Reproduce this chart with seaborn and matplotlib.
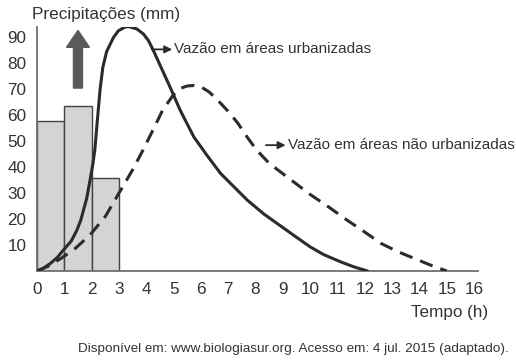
import numpy as np
import pandas as pd
import matplotlib
matplotlib.use("Agg")
import matplotlib.pyplot as plt
import seaborn as sns

# ==============================
# Data
# ==============================
bar_left = [0, 1, 2]
bar_height = [58, 63.5, 36]

# urbanised discharge (solid)
urban_x = [0, 0.25, 0.5, 0.75, 0.96, 1.25, 1.45, 1.6, 1.82, 1.95, 2.05, 2.12, 2.2,
           2.31, 2.41, 2.55, 2.8, 2.98, 3.22, 3.35, 3.65, 3.89, 4.08, 4.26, 4.48,
           4.87, 5.24, 5.74, 6.22, 6.72, 7.7, 8.3, 8.9, 9.5, 10, 10.5, 11.1, 11.6, 12.1]
urban_y = [0, 1.2, 3, 5.3, 8, 11.5, 15.5, 19.5, 28, 35.5, 41.5, 47, 57,
           70, 78.5, 84.6, 90, 92.6, 94, 94.2, 93.3, 91.4, 88.8, 85, 79.9,
           70.9, 62, 51.7, 44.6, 37.6, 27.3, 22, 17.5, 13, 9.3, 6.3, 3.6, 1.6, 0]

# non-urbanised discharge (dashed)
rural_x = [0, 0.4, 0.9, 1.4, 1.95, 2.5, 3, 3.5, 3.9, 4.3, 4.6, 5.0, 5.25, 5.5,
           5.75, 6.0, 6.3, 6.6, 7.0, 7.35, 7.7, 8.05, 8.5, 9, 9.5, 10, 10.7,
           11.35, 12, 12.6, 13.2, 13.8, 14.4, 15]
rural_y = [0, 1.8, 5, 8.7, 14, 21, 30, 39, 47, 55.5, 62, 68, 70.4, 71.3,
           71.5, 71, 69, 66, 61.5, 57, 51.5, 46.5, 41.5, 37.5, 33.5, 29.5, 24.5,
           19.6, 15, 10.6, 7.5, 4.9, 2.3, 0]

x_ticks = list(range(0, 17))
y_ticks = list(range(10, 100, 10))

# ==============================
# Plot
# ==============================
sns.set_style("white")
plt.rcParams["font.family"] = ["Liberation Sans", "DejaVu Sans"]

fig = plt.figure(figsize=(5.16, 3.63), dpi=100)
ax = fig.add_axes([0.0717, 0.2534, 0.855, 0.672])

ink = "#2b2b2b"
txt = "#333333"
axis_gray = "#707070"

ax.bar(bar_left, bar_height, width=1, align="edge", color="#d4d4d4",
       edgecolor="#444444", linewidth=1, zorder=1)

urban = pd.DataFrame({"t": urban_x, "v": urban_y})
rural = pd.DataFrame({"t": rural_x, "v": rural_y})
sns.lineplot(data=urban, x="t", y="v", sort=False, estimator=None, ax=ax,
             color=ink, linewidth=2.2, zorder=3)
sns.lineplot(data=rural, x="t", y="v", sort=False, estimator=None, ax=ax,
             color=ink, linewidth=2.2, zorder=3)
for ln in ax.lines:
    ln.set_solid_joinstyle("round")
ax.lines[-1].set_dashes((4.4, 2.7))

# big grey arrow
ax.arrow(1.5, 70.5, 0, 22.2, width=0.33, head_width=0.84, head_length=6.5,
         length_includes_head=True, color="#5a5a5a", zorder=4)

# annotation arrows + labels
ax.annotate("", xy=(4.95, 85.4), xytext=(4.2, 85.4),
            arrowprops=dict(arrowstyle="-|>", color=ink, lw=1.3,
                            mutation_scale=11, shrinkA=0, shrinkB=0))
ax.text(5.03, 85.4, "Vazão em áreas urbanizadas", fontsize=11,
        va="center", ha="left", color=txt)
ax.annotate("", xy=(9.1, 48.5), xytext=(8.38, 48.5),
            arrowprops=dict(arrowstyle="-|>", color=ink, lw=1.3,
                            mutation_scale=11, shrinkA=0, shrinkB=0))
ax.text(9.18, 48.5, "Vazão em áreas não urbanizadas", fontsize=11,
        va="center", ha="left", color=txt)

ax.set_xlim(0, 16.15)
ax.set_ylim(0, 94)
ax.set_xticks(x_ticks)
ax.set_yticks(y_ticks)
ax.set_xlabel("")
ax.set_ylabel("")

for side in ["top", "right"]:
    ax.spines[side].set_visible(False)
for side in ["left", "bottom"]:
    ax.spines[side].set_color(axis_gray)
    ax.spines[side].set_linewidth(1.3)

ax.tick_params(axis="y", direction="out", length=6, width=1.1, color=axis_gray,
               labelsize=12.3, labelcolor=txt, pad=1.5)
ax.tick_params(axis="x", direction="out", length=5.5, width=1.1, color=axis_gray,
               labelsize=12.3, labelcolor=txt, pad=2.5)

fig.text(0.062, 0.959, "Precipitações (mm)", fontsize=12.3, ha="left",
         va="center", color=txt)
fig.text(0.946, 0.138, "Tempo (h)", fontsize=12.3, ha="right", va="center",
         color=txt)
fig.text(0.985, 0.039,
         "Disponível em: www.biologiasur.org. Acesso em: 4 jul. 2015 (adaptado).",
         fontsize=9.7, ha="right", va="center", color=txt)

fig.savefig("out.png", dpi=100)
